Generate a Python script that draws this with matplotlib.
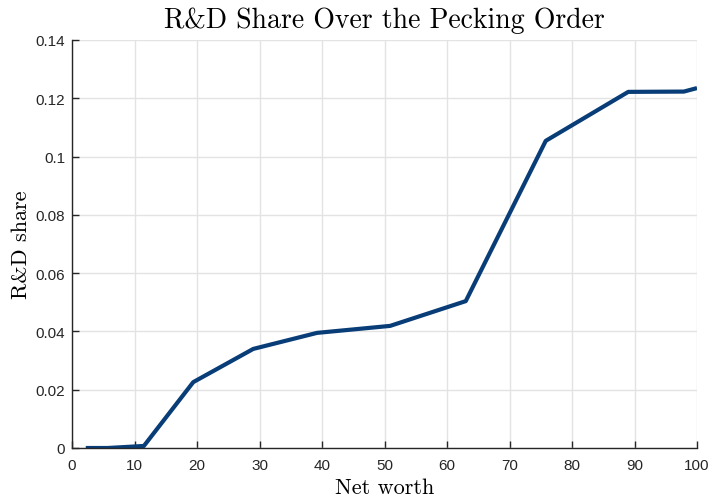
import matplotlib.pyplot as plt
from matplotlib.ticker import FuncFormatter

net_worth = [2.2, 5.7, 11.5, 19.4, 29.0, 39.2, 50.9, 63.0, 75.8, 89.0, 97.9, 100.0]
rd_share = [0.0, 0.0, 0.0007, 0.0226, 0.034, 0.0395, 0.0419, 0.0504, 0.1054, 0.1222, 0.1223, 0.1235]

x_ticks = [0, 10, 20, 30, 40, 50, 60, 70, 80, 90, 100]
y_ticks = [0, 0.02, 0.04, 0.06, 0.08, 0.1, 0.12, 0.14]

fig = plt.figure(figsize=(7.1, 5.02), dpi=100)
ax = fig.add_axes([72 / 710, 53 / 502, 625 / 710, 408 / 502])

ax.plot(net_worth, rd_share, color='#083d77', linewidth=3.0, solid_capstyle='butt')

ax.set_xlim(0, 100)
ax.set_ylim(0, 0.14)
ax.set_xticks(x_ticks)
ax.set_yticks(y_ticks)
ax.yaxis.set_major_formatter(FuncFormatter(lambda v, p: '%g' % v))

ax.grid(True, color='#e3e3e3', linewidth=1.0)
ax.set_axisbelow(True)
for side in ['top', 'right']:
    ax.spines[side].set_visible(False)
for side in ['left', 'bottom']:
    ax.spines[side].set_color('#262626')
    ax.spines[side].set_linewidth(1.0)

ax.tick_params(direction='in', length=5, width=1.0, color='#262626',
               labelcolor='#262626', labelsize=11)
ax.tick_params(axis='x', pad=7)
ax.tick_params(axis='y', pad=5)
for lbl in ax.get_xticklabels() + ax.get_yticklabels():
    lbl.set_family('Liberation Sans')

ax.set_title('R&D Share Over the Pecking Order', family='cmr10', fontsize=20, pad=9)
ax.set_xlabel('Net worth', family='cmr10', fontsize=16, labelpad=4)
ax.set_ylabel('R&D share', family='cmr10', fontsize=16, labelpad=3)

plt.savefig('out.png', dpi=100)
